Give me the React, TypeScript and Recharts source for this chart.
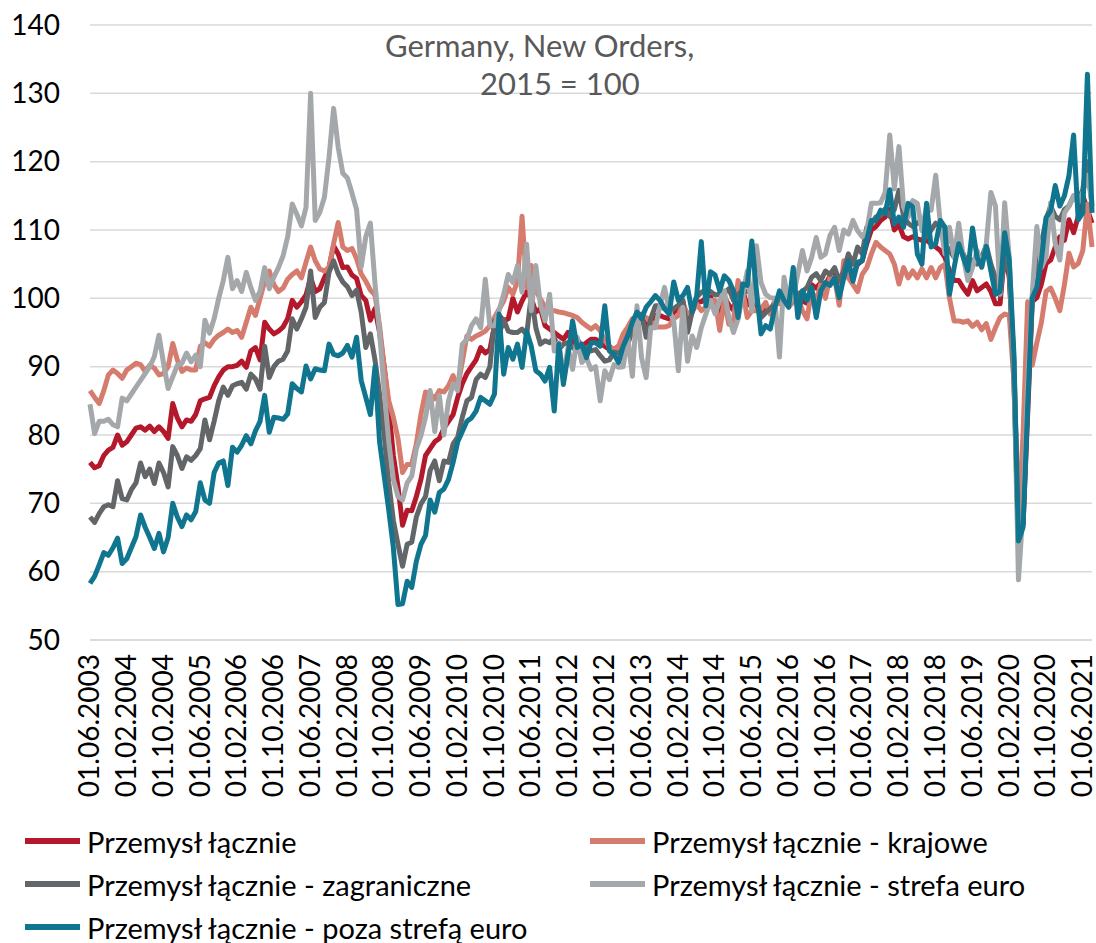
import { LineChart, Line, XAxis, YAxis, CartesianGrid } from 'recharts';

// monthly index, first observation June 2003
const START_YEAR = 2003;
const START_MONTH = 6;
const MONTH_COUNT = 219;

const months: string[] = Array.from({ length: MONTH_COUNT }, (_, i) => {
    const m = ((START_MONTH - 1 + i) % 12) + 1;
    const y = START_YEAR + Math.floor((START_MONTH - 1 + i) / 12);
    return `01.${String(m).padStart(2, '0')}.${y}`;
});

const yTicks = [50, 60, 70, 80, 90, 100, 110, 120, 130, 140];

const przemysl = [
    76.0, 75.2, 75.5, 77, 77.8, 78.2, 80, 78.5,
    79, 80, 81, 81.2, 80.7, 81.3, 80.5, 81.2,
    80.5, 79.5, 84.6, 82.5, 81.2, 82.2, 82, 83,
    85, 85.3, 85.5, 87.2, 88.5, 89.5, 90, 90,
    90.2, 90.8, 89.9, 92.3, 92.8, 91, 96.5, 95.5,
    94.8, 95.2, 95.8, 97, 99.7, 98.7, 99.5, 100.5,
    103, 101, 101.4, 103, 104.5, 107.7, 106.5, 104.5,
    104.6, 103.4, 102.9, 100.4, 99.7, 96.8, 98.5, 95,
    90, 84, 77, 72.5, 66.8, 69, 68.9, 71,
    73.5, 77, 78, 79, 79.5, 81, 82, 83,
    85.5, 87.5, 89, 90, 91, 92.8, 92, 92.5,
    96, 97.5, 96.7, 97, 100, 98, 99.6, 101,
    100, 98, 98.5, 96, 95.5, 95, 94.5, 94,
    95, 93.5, 94, 93, 93.5, 94, 94, 93.5,
    93, 92.5, 92.5, 93, 94, 95, 96, 96.5,
    97.2, 96, 96.5, 97.5, 97.5, 97.2, 97, 98,
    98.3, 99.5, 96.5, 98, 99.5, 99.5, 100, 100.2,
    98.5, 98, 100.2, 99, 98.3, 101.5, 101.1, 99,
    100, 99, 97.8, 98.5, 98, 99.5, 99.6, 99.8,
    99, 99.8, 100.3, 99.6, 99.3, 102, 101.5, 102.3,
    102, 103.3, 103.8, 101, 103.5, 104.5, 103.5, 105,
    105.5, 108, 110, 110.5, 111.4, 111.9, 113, 110,
    110.8, 109, 108.7, 109, 108.7, 108.5, 108.5, 108,
    107.5, 107, 106, 104, 102.6, 102.6, 101.5, 100.6,
    102.6, 101.1, 101.6, 102.1, 101, 99.2, 99.2, 107,
    103, 91, 65.5, 67, 83, 99.5, 100.1, 102.1,
    105.1, 105.6, 107.5, 109, 108.5, 111.5, 109.6, 112,
    115, 113, 111,
];

const krajowe = [
    86.5, 85.5, 84.6, 86.5, 88.8, 89.5, 89, 88.3,
    89.5, 90, 90.5, 90.3, 89.3, 90.2, 89.8, 88.8,
    89, 90, 93.4, 91, 89.3, 89.8, 89.5, 89.5,
    93, 93.5, 93, 94, 94.6, 95, 95.5, 95,
    95.3, 94.3, 96.5, 98.7, 97.5, 100, 102.5, 104,
    102, 101, 101.5, 102.8, 103.5, 104, 103, 105.3,
    107.5, 105.5, 104.3, 104, 104.5, 108, 111.1, 107.5,
    107, 107.3, 105.8, 103.6, 102.5, 101.2, 100.5, 96,
    90, 85, 82.6, 79.5, 74.5, 75.7, 75.7, 78.7,
    83, 86.3, 86, 85.3, 86.5, 86.3, 87.2, 88.7,
    87, 90.7, 94.5, 94, 94.5, 94.8, 95.2, 96,
    97.2, 98.4, 99.6, 101.6, 100.6, 102.5, 112, 101.6,
    104.8, 101.1, 99.9, 98.7, 98.2, 98.2, 98, 97.9,
    97.7, 97.5, 97.2, 96.5, 96, 95.5, 96, 95.3,
    93.8, 93, 92.5, 93, 94.8, 95.8, 97, 96.7,
    97.5, 97.2, 96.7, 95.8, 95.8, 95.8, 96, 97,
    97.5, 99.2, 97.7, 98, 99.2, 98.2, 98.7, 99.7,
    99.7, 95.3, 99.7, 96.2, 96.7, 102.6, 101.1, 97.2,
    98.2, 98.2, 98.4, 99.4, 97.7, 99.7, 99.2, 99.7,
    98.7, 99.5, 100.1, 98.2, 97, 101.1, 99.5, 102.1,
    100, 103.1, 103, 99, 105.5, 103, 102, 101,
    103.5, 104.5, 106.5, 108.2, 107.5, 107, 106.5, 105,
    102.1, 104.5, 103, 104, 103, 104.3, 103, 104.5,
    103, 104.5, 105, 100, 96.7, 96.7, 96.5, 96.7,
    95.9, 96.5, 95.4, 96.3, 94, 95.7, 97.2, 97.7,
    97.5, 88, 68, 80, 99.5, 90.2, 93.5, 96.5,
    101, 101.5, 100, 98.2, 102, 106.6, 104.6, 105.1,
    107, 113.8, 107.5,
];

const zagraniczne = [
    68, 67.2, 68.5, 69.5, 69.8, 69.5, 73.3, 70.7,
    70.5, 72, 73, 75.9, 73.9, 75, 72.9, 75.9,
    74.5, 72.4, 78.3, 77, 75.1, 76.8, 76.3, 77,
    78, 82.2, 79.3, 82, 85, 87, 85.8, 87.2,
    87.5, 87.7, 86.7, 88.9, 88.2, 86.7, 93, 88.4,
    90, 90.8, 91.1, 92.3, 97, 95.5, 97, 98.7,
    104, 97.2, 98.7, 99.4, 103.8, 105.5, 103.6, 102.4,
    101.7, 100.4, 101.2, 98, 92.8, 94.8, 91, 86,
    80, 73, 67.5, 64, 60.8, 64, 64.3, 68,
    69.9, 71, 74.8, 76.2, 73.3, 76.2, 76, 78.7,
    79.7, 82.6, 85, 85.5, 88.1, 88.9, 88.4, 90,
    96.7, 94.7, 96.9, 95.2, 95, 95, 95.5, 94.7,
    100.4, 95.7, 93.3, 93.8, 93.5, 94.3, 92.5, 93.3,
    93.5, 92.8, 92.3, 92.5, 92.8, 92.3, 92.5, 91.6,
    90.8, 91, 92.1, 92, 92.6, 93.3, 95.3, 97,
    97.7, 94.3, 97, 98.9, 98.9, 98.5, 98, 98.5,
    99, 99.7, 95, 98, 100.2, 100.9, 101.2, 101,
    100.5, 100.6, 100.8, 101.4, 99.7, 100.6, 101.1, 101,
    101.6, 99.7, 97.2, 97.9, 98.5, 99.2, 100.1, 100,
    99.2, 100.1, 100.6, 101, 101.6, 103.1, 103.6, 102.6,
    104, 103.5, 104.5, 102.6, 104, 106.5, 105, 107.5,
    106.5, 110.4, 110.9, 111.9, 112.1, 113.1, 112, 113,
    115.8, 112, 111, 110.5, 111, 111.5, 109, 110,
    111, 110.5, 108, 107, 106, 107.5, 106.5, 105,
    105.6, 105, 106, 107.8, 105, 103, 100.5, 106,
    104, 88, 64, 67, 86, 100, 103, 108,
    111.5, 113.5, 112, 111.5, 113, 113.5, 115, 114,
    116, 120, 113.5,
];

const strefaEuro = [
    84.5, 80.2, 82, 82, 82.3, 81.5, 81.2, 85.4,
    85, 86, 87, 88, 89, 90, 91.5, 94.6,
    90.5, 86.8, 88.5, 90.2, 90.5, 92, 90.7, 91.7,
    90, 96.8, 94.9, 97, 100, 102.6, 106, 101.4,
    102.6, 101, 103.8, 101.6, 99.7, 101, 104.5, 101.4,
    103.1, 104.5, 106.2, 109, 113.8, 112.3, 110.6, 113.3,
    130, 111.4, 112.6, 114.8, 120.6, 127.8, 122.1, 118.3,
    117.6, 115.4, 113, 104.6, 109, 111, 102.2, 95,
    86.5, 79, 73.5, 71, 70.5, 73, 74, 78,
    79.9, 82.6, 86.5, 80.5, 85.8, 80, 85, 87.5,
    86.5, 93.3, 94, 96, 97, 95.7, 102.8, 96,
    96, 98.2, 100.6, 103.5, 102.3, 104.8, 100.9, 107.9,
    98.2, 104.8, 99, 96.7, 100.6, 92.3, 93.5, 88.4,
    92.8, 89.6, 94.3, 90.6, 91.3, 89.6, 90, 85,
    89.4, 88.1, 90.3, 89.9, 90, 94.3, 88.6, 98.9,
    91.3, 88.4, 95.7, 95.7, 98.9, 101.6, 98.2, 96.7,
    89.4, 98.7, 90.8, 94.5, 92.8, 95.7, 97.7, 99.7,
    97.7, 99.7, 101.1, 97.2, 95, 97, 100.6, 104,
    98.2, 107.7, 102.3, 100.6, 100.1, 100, 91.4, 103.1,
    99.2, 100.1, 103.6, 107, 104, 106, 108.9, 106,
    106.5, 109.2, 110.4, 107, 110, 109.4, 111.4, 109.9,
    109, 109.9, 113.9, 113.9, 114, 115.5, 123.9, 116,
    122.2, 113.4, 111.9, 114.3, 113.9, 109.9, 113.4, 112.9,
    118, 110.9, 106.5, 110.4, 106, 111, 106, 102.6,
    104.5, 107, 104.5, 108, 115.5, 113.5, 100.6, 114,
    106, 90, 58.8, 69, 88, 100.6, 110.5, 104.5,
    106, 114, 108, 105.6, 112.5, 113.5, 115, 114,
    115.5, 118, 114,
];

const pozaStrefa = [
    58.3, 59.3, 61, 62.8, 62.4, 63.5, 64.9, 61.2,
    61.9, 63.5, 65.1, 68.3, 66.5, 65, 63.4, 65.6,
    62.9, 65, 70, 68, 66.6, 68.3, 67.6, 68.8,
    73, 70.5, 70, 74.5, 75.9, 76.2, 72.6, 78.2,
    77.5, 78.5, 79.9, 78.7, 80.6, 82, 85.8, 80.4,
    82.6, 82.5, 82.3, 83.1, 87.5, 86.8, 86.3, 90.1,
    88.2, 89.7, 89.5, 89.4, 93.3, 91.8, 91.6, 92,
    93.1, 91.4, 94.3, 88, 85.5, 83, 90, 79,
    74, 69, 63.5, 55.2, 55.3, 58.6, 57.7, 61.5,
    64, 65.3, 70.5, 68.7, 71.6, 72.1, 73.5, 76,
    79, 80.5, 82, 82.5, 83.5, 85.5, 85, 84.5,
    86, 97.7, 88.9, 92.8, 91.1, 93.3, 89.9, 95.2,
    93, 89.4, 88.9, 87.9, 89.9, 83.5, 93.3, 87.4,
    91.8, 96.7, 92.8, 93.3, 91.3, 93.5, 93.5, 93,
    98.9, 92.3, 91.8, 90.6, 93, 94.5, 96.5, 98,
    97, 98.7, 99.5, 100.4, 99.7, 98.5, 97.7, 102.4,
    99.7, 100.4, 101.6, 98, 100.4, 108.3, 98.9, 103.9,
    103.4, 101.1, 103.3, 102.6, 101.1, 97.2, 102.1, 101.9,
    108.4, 101.1, 94.8, 96, 95.5, 98.7, 101.1, 99.7,
    98.7, 104.5, 97.2, 101.1, 99.7, 101.6, 97.2, 101.1,
    102.3, 101.9, 103, 100.1, 103, 105.5, 102.5, 105.3,
    105.5, 108.5, 111.4, 111.4, 112.9, 112.4, 115.9, 110.9,
    111.9, 110.4, 113.9, 113.4, 106.5, 105, 113.9, 107.5,
    108, 111.4, 110.4, 100.6, 104.5, 108, 106, 104.1,
    110.3, 106, 104.6, 107.6, 104, 100.6, 101, 109.6,
    105.6, 92, 64.5, 66.5, 84, 100.1, 101.6, 105.6,
    111.8, 112.8, 116.5, 113.5, 115, 118, 123.9, 111.5,
    112.5, 132.8, 112.5,
];

const series = [
    { key: 'przemysl', name: 'Przemysł łącznie', color: '#B4182B', values: przemysl },
    { key: 'krajowe', name: 'Przemysł łącznie - krajowe', color: '#D67C6E', values: krajowe },
    { key: 'zagraniczne', name: 'Przemysł łącznie - zagraniczne', color: '#636669', values: zagraniczne },
    { key: 'strefaEuro', name: 'Przemysł łącznie - strefa euro', color: '#A5A8AB', values: strefaEuro },
    { key: 'pozaStrefa', name: 'Przemysł łącznie - poza strefą euro', color: '#10758F', values: pozaStrefa },
];

const data = months.map((month, i) => {
    const row: Record<string, string | number> = { month };
    series.forEach((s) => {
        row[s.key] = s.values[i];
    });
    return row;
});

const FONT = 'Lato, "Open Sans", sans-serif';

function XTick(props: any) {
    const { x, y, payload } = props;
    return (
        <text
            x={x}
            y={y}
            transform={`rotate(-90, ${x}, ${y})`}
            textAnchor="end"
            dy="0.33em"
            fontSize={28}
            fontFamily={FONT}
            fill="#000"
        >
            {payload.value}
        </text>
    );
}

function YTick(props: any) {
    const { y, payload } = props;
    return (
        <text x={60} y={y} dy="0.35em" textAnchor="end" fontSize={28} fontFamily={FONT} fill="#000">
            {payload.value}
        </text>
    );
}

export default function App() {
    return (
        <div style={{ position: 'absolute', left: 0, top: 0, width: 1096, height: 943, background: '#fff', fontFamily: FONT }}>
            <LineChart width={1096} height={830} data={data} margin={{ top: 25, right: 4, left: 0, bottom: 0 }}>
                <CartesianGrid vertical={false} stroke="#d9d9d9" strokeWidth={1.5} />
                <XAxis
                    dataKey="month"
                    interval={7}
                    height={190}
                    tickLine={false}
                    axisLine={{ stroke: '#d9d9d9', strokeWidth: 1.5 }}
                    tick={<XTick />}
                    tickMargin={8}
                />
                <YAxis
                    domain={[50, 140]}
                    ticks={yTicks}
                    width={90}
                    axisLine={false}
                    tickLine={false}
                    tick={<YTick />}
                />
                {series.map((s) => (
                    <Line
                        key={s.key}
                        type="linear"
                        dataKey={s.key}
                        name={s.name}
                        stroke={s.color}
                        strokeWidth={5}
                        dot={false}
                        strokeLinejoin="round"
                        isAnimationActive={false}
                    />
                ))}
            </LineChart>

            <div style={{ position: 'absolute', left: 385, top: 25, fontSize: 31, color: '#595959', lineHeight: '40px', whiteSpace: 'nowrap' }}>
                Germany, New Orders,
            </div>
            <div style={{ position: 'absolute', left: 480, top: 63, fontSize: 31, color: '#595959', lineHeight: '40px', whiteSpace: 'nowrap' }}>
                2015 = 100
            </div>

            {series.map((s, i) => {
                const col = i % 2;
                const row = Math.floor(i / 2);
                return (
                    <div
                        key={s.key}
                        style={{
                            position: 'absolute',
                            left: col === 0 ? 25 : 590,
                            top: 821 + row * 43,
                            height: 40,
                            display: 'flex',
                            alignItems: 'center',
                            whiteSpace: 'nowrap',
                        }}
                    >
                        <span style={{ display: 'inline-block', width: 55, height: 6, background: s.color, marginRight: 7 }} />
                        <span style={{ fontSize: 29, color: '#000' }}>{s.name}</span>
                    </div>
                );
            })}
        </div>
    );
}
